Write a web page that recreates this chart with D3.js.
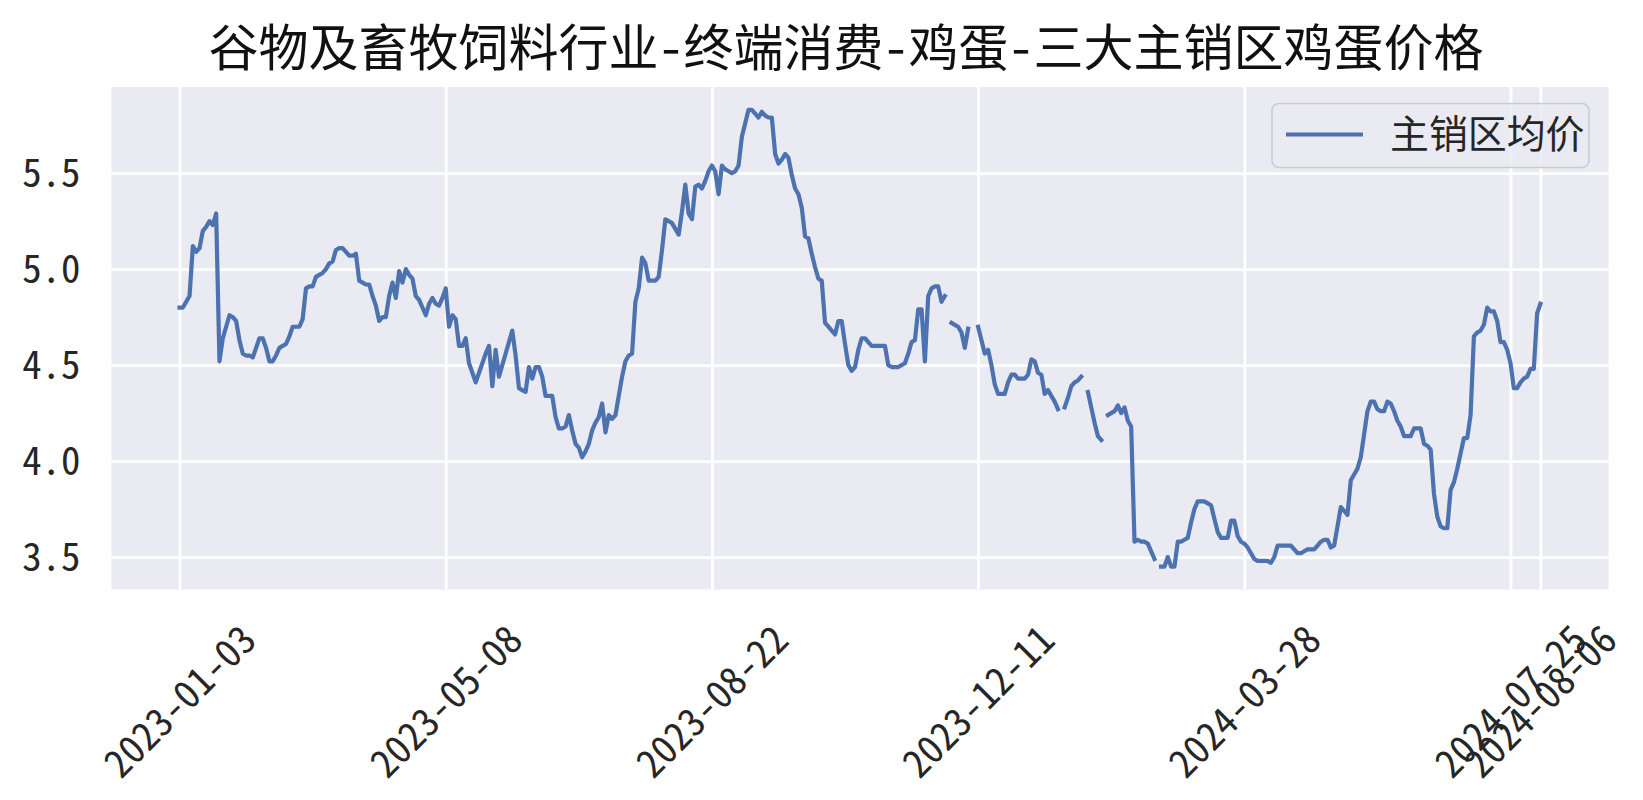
<!DOCTYPE html>
<html>
<head>
<meta charset="utf-8">
<script src="https://cdn.jsdelivr.net/npm/d3@7"></script>
<style>
	body{margin:0;background:#fff;}
	svg text{font-family:"Noto Sans CJK SC", "DejaVu Sans", sans-serif; font-feature-settings:"hwid" 1;}
</style>
</head>
<body>
<svg id="chart" width="1643" height="800"></svg>
<script>
// chart text
let chartTitle = "谷物及畜牧饲料行业-终端消费-鸡蛋-三大主销区鸡蛋价格";
let seriesName = "主销区均价";

// x ticks (positions are row numbers of the date column)
let tickIdx = [0, 80, 160, 240, 320, 400, 409];
let tickLabels = ["2023-01-03", "2023-05-08", "2023-08-22", "2023-12-11", "2024-03-28", "2024-07-25", "2024-08-06"];
let yTicks = [3.5, 4.0, 4.5, 5.0, 5.5];

// 主销区均价, one value per row, null = missing
let priceVals = [
	4.80,4.80,4.83,4.86,5.12,5.09,5.11,5.20,5.22,5.25,
	5.23,5.29,4.52,4.64,4.70,4.76,4.75,4.73,4.63,4.56,
	4.55,4.55,4.54,4.59,4.64,4.64,4.59,4.52,4.52,4.55,
	4.59,4.60,4.61,4.65,4.70,4.70,4.70,4.74,4.90,4.91,
	4.91,4.96,4.97,4.98,5.00,5.03,5.04,5.10,5.11,5.11,
	5.09,5.07,5.07,5.08,4.94,4.93,4.92,4.92,4.86,4.81,
	4.73,4.75,4.75,4.86,4.93,4.85,4.99,4.93,5.00,4.97,
	4.95,4.86,4.84,4.80,4.76,4.82,4.85,4.82,4.81,4.85,
	4.90,4.70,4.76,4.74,4.60,4.60,4.64,4.51,4.46,4.41,
	4.46,4.51,4.56,4.60,4.39,4.58,4.44,4.50,4.56,4.62,
	4.68,4.55,4.38,4.37,4.36,4.49,4.43,4.49,4.49,4.44,
	4.34,4.34,4.34,4.23,4.17,4.17,4.18,4.24,4.16,4.09,
	4.07,4.02,4.05,4.09,4.16,4.20,4.23,4.30,4.15,4.24,
	4.22,4.24,4.34,4.44,4.52,4.55,4.56,4.83,4.90,5.06,
	5.03,4.94,4.94,4.94,4.96,5.10,5.26,5.25,5.24,5.21,
	5.18,5.30,5.44,5.29,5.26,5.43,5.44,5.42,5.46,5.51,
	5.54,5.51,5.39,5.54,5.52,5.51,5.50,5.51,5.54,5.69,
	5.76,5.83,5.83,5.81,5.79,5.82,5.80,5.79,5.79,5.60,
	5.55,5.57,5.60,5.58,5.49,5.42,5.39,5.32,5.17,5.16,
	5.08,5.01,4.95,4.94,4.72,4.70,4.68,4.66,4.73,4.73,
	4.61,4.50,4.47,4.49,4.58,4.64,4.64,4.62,4.60,4.60,
	4.60,4.60,4.60,4.50,4.49,4.49,4.49,4.50,4.51,4.56,
	4.62,4.63,4.79,4.79,4.52,4.86,4.90,4.91,4.91,4.83,
	4.86,null,4.72,4.71,4.70,4.67,4.59,4.69,null,null,
	4.70,4.63,4.56,4.58,4.50,4.40,4.35,4.35,4.35,4.41,
	4.45,4.45,4.43,4.43,4.43,4.45,4.53,4.52,4.46,4.45,
	4.35,4.37,4.34,4.31,4.27,null,4.28,4.33,4.39,4.41,
	4.42,4.44,null,4.36,4.28,4.20,4.13,4.11,null,4.24,
	4.25,4.26,4.29,4.25,4.28,4.21,4.18,3.58,3.59,3.58,
	3.58,3.57,3.53,3.49,null,3.45,3.45,3.50,3.45,3.45,
	3.58,3.58,3.59,3.60,3.68,3.75,3.79,3.79,3.79,3.78,
	3.77,3.70,3.63,3.60,3.60,3.60,3.69,3.69,3.61,3.58,
	3.57,3.55,3.52,3.49,3.48,3.48,3.48,3.48,3.47,3.50,
	3.56,3.56,3.56,3.56,3.56,3.54,3.52,3.52,3.53,3.54,
	3.54,3.54,3.56,3.58,3.59,3.59,3.55,3.56,3.66,3.76,
	3.74,3.72,3.90,3.93,3.96,4.02,4.14,4.26,4.31,4.31,
	4.27,4.26,4.26,4.31,4.30,4.26,4.21,4.18,4.13,4.13,
	4.13,4.17,4.17,4.17,4.09,4.08,4.06,3.83,3.71,3.66,
	3.65,3.65,3.85,3.89,3.96,4.04,4.12,4.12,4.24,4.65,
	4.67,4.68,4.71,4.80,4.78,4.78,4.73,4.62,4.62,4.58,
	4.51,4.38,4.38,4.41,4.43,4.44,4.48,4.48,4.77,4.82
];

function drawChart(containerSVG){
	let svg = d3.select("#"+containerSVG);
	svg.selectAll("*").remove();

	let plot = { left: 111.5, right: 1608.5, top: 87, bottom: 589.5 };
	let lineColor = "#4C72B0",
		textColor = "#262626",
		bgColor = "#EAEAF2";

	//matplotlib style 5% margins around the data
	let n = priceVals.length;
	let yMin = d3.min(priceVals), yMax = d3.max(priceVals);
	let xPad = (n-1)*0.05, yPad = (yMax-yMin)*0.05;

	let x = d3.scaleLinear()
				.domain([-xPad, n-1+xPad])
				.range([plot.left, plot.right]);
	let y = d3.scaleLinear()
				.domain([yMin-yPad, yMax+yPad])
				.range([plot.bottom, plot.top]);

	//background
	svg.append("rect")
		.attr("x", plot.left)
		.attr("y", plot.top)
		.attr("width", plot.right-plot.left)
		.attr("height", plot.bottom-plot.top)
		.attr("fill", bgColor);

	//grid from the axes, labels drawn separately
	let gx = svg.append("g")
		.attr("transform", "translate(0," + plot.bottom + ")")
		.call(d3.axisBottom(x).tickValues(tickIdx).tickSize(-(plot.bottom-plot.top)).tickFormat(""));
	let gy = svg.append("g")
		.attr("transform", "translate(" + plot.left + ",0)")
		.call(d3.axisLeft(y).tickValues(yTicks).tickSize(-(plot.right-plot.left)).tickFormat(""));
	[gx, gy].forEach(function(g){
		g.select(".domain").remove();
		g.selectAll(".tick line")
			.attr("stroke", "#fff")
			.attr("stroke-width", 2.8);
	});

	//y labels
	gy.selectAll(".tick")
		.append("text")
		.text(function(d){ return d3.format(".1f")(d); })
		.attr("x", -31)
		.attr("dy", "0.35em")
		.style("text-anchor", "end")
		.style("fill", textColor)
		.style("font-size", "38.9px");

	//x labels, rotated 45
	gx.selectAll(".tick")
		.append("text")
		.text(function(d, i){ return tickLabels[i]; })
		.attr("transform", "translate(0,112) rotate(-45)")
		.attr("dy", "0.35em")
		.style("text-anchor", "middle")
		.style("fill", textColor)
		.style("font-size", "38.9px");

	//the series, gaps where value is missing
	let line = d3.line()
				.defined(function(d){ return d != null; })
				.x(function(d, i){ return x(i); })
				.y(function(d){ return y(d); });

	svg.append("path")
		.datum(priceVals)
		.attr("d", line)
		.attr("fill", "none")
		.attr("stroke", lineColor)
		.attr("stroke-width", 4.2)
		.attr("stroke-linejoin", "round")
		.attr("stroke-linecap", "square");

	//title
	svg.append("text")
		.text(chartTitle)
		.attr("x", 846)
		.attr("y", 48)
		.attr("dy", "0.35em")
		.style("text-anchor", "middle")
		.style("fill", "#111")
		.style("font-size", "50px");

	//legend
	let legend = svg.append("g")
		.attr("transform", "translate(1272,103.5)");
	legend.append("rect")
		.attr("width", 317)
		.attr("height", 64)
		.attr("rx", 7)
		.attr("fill", bgColor)
		.attr("fill-opacity", 0.8)
		.attr("stroke", "#cccccc")
		.attr("stroke-width", 1.6);
	legend.append("line")
		.attr("x1", 14)
		.attr("x2", 91)
		.attr("y1", 31)
		.attr("y2", 31)
		.attr("stroke", lineColor)
		.attr("stroke-width", 4.2);
	legend.append("text")
		.text(seriesName)
		.attr("x", 118)
		.attr("y", 31)
		.attr("dy", "0.35em")
		.style("fill", textColor)
		.style("font-size", "38.9px");
}

drawChart("chart");
</script>
</body>
</html>
